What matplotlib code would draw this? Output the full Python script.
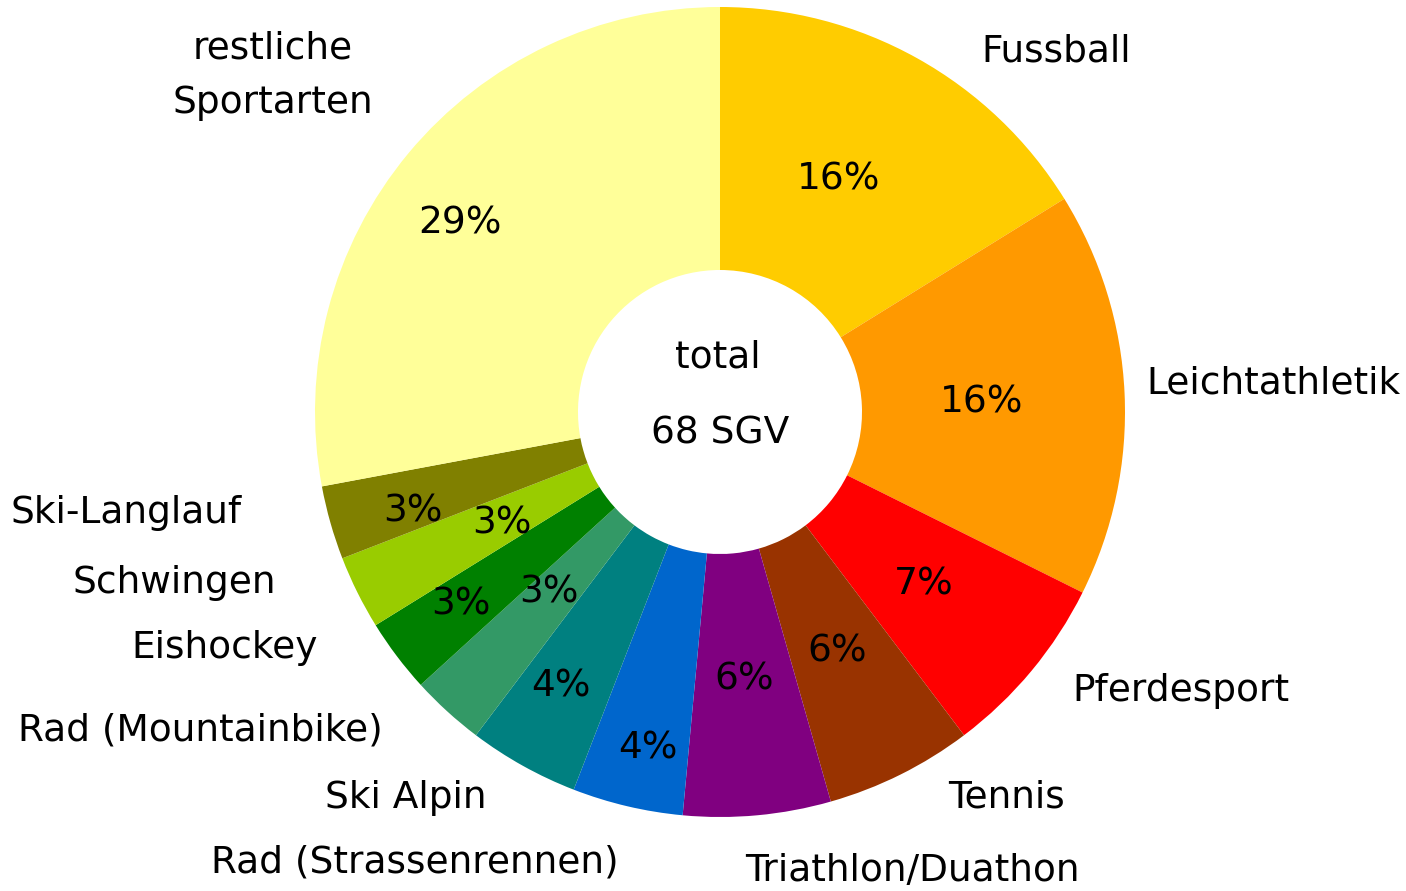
import numpy as np
import matplotlib.pyplot as plt

# Sportarten (clockwise from 12 o'clock) and number of SGV per sport
sports = ["Fussball", "Leichtathletik", "Pferdesport", "Tennis",
          "Triathlon/Duathon", "Rad (Strassenrennen)", "Ski Alpin",
          "Rad (Mountainbike)", "Eishockey", "Schwingen", "Ski-Langlauf",
          "restliche\nSportarten"]
counts = [11, 11, 5, 4, 4, 3, 3, 2, 2, 2, 2, 19]
pct_labels = ["16%", "16%", "7%", "6%", "6%", "4%", "4%",
              "3%", "3%", "3%", "3%", "29%"]
total_label = "68 SGV"

colors = ["#FFCC00", "#FF9900", "#FF0000", "#993300", "#800080", "#0066CC",
          "#008080", "#339966", "#008000", "#99CC00", "#808000", "#FFFF99"]

W, H = 1406, 891


def py(y):
    # pixel row (from top) -> data y
    return H - y


fig = plt.figure(figsize=(W / 100, H / 100), dpi=100)
ax = fig.add_axes([0, 0, 1, 1])

cx, cy = 720, py(412)
r_out, r_in = 405, 142

wedges, _ = ax.pie(counts, colors=colors, startangle=90, counterclock=False,
                   radius=r_out, center=(cx, cy), frame=True,
                   wedgeprops=dict(width=r_out - r_in, linewidth=0))
ax.set_xlim(0, W)
ax.set_ylim(0, H)
ax.set_aspect("equal")
ax.axis("off")

fs = 27

# placement of the percentage labels (Excel best-fit look)
pct_radius = [264, 262, 265, 264, 266, 341, 315, 247, 321, 244, 322, 323]
pct_shift = [2.3, 0, 0, 0, 0, 1.1, -1.2, -1.6, -0.8, 0, 1.6, 3.4]
for w, lab, rr, sh in zip(wedges, pct_labels, pct_radius, pct_shift):
    th = np.deg2rad((w.theta1 + w.theta2) / 2 + sh)
    ax.text(cx + rr * np.cos(th), cy + rr * np.sin(th) - 3, lab, fontsize=fs,
            ha="center", va="center")

# category label positions (pixel coords of the text centre)
label_pos = [(1056, 51), (1273, 383), (1181, 691), (1007, 798), (912, 871),
             (415, 863), (406, 798), (200, 730), (225, 648), (174, 583),
             (126, 513), (273, 76)]
for name, (x, y) in zip(sports, label_pos):
    ax.text(x, py(y), name, fontsize=fs, ha="center", va="center",
            linespacing=1.65)

ax.text(718, py(358), "total", fontsize=fs, ha="center", va="center")
ax.text(720, py(434), total_label, fontsize=fs, ha="center", va="center")

fig.savefig("out.png", dpi=100, facecolor="white")
